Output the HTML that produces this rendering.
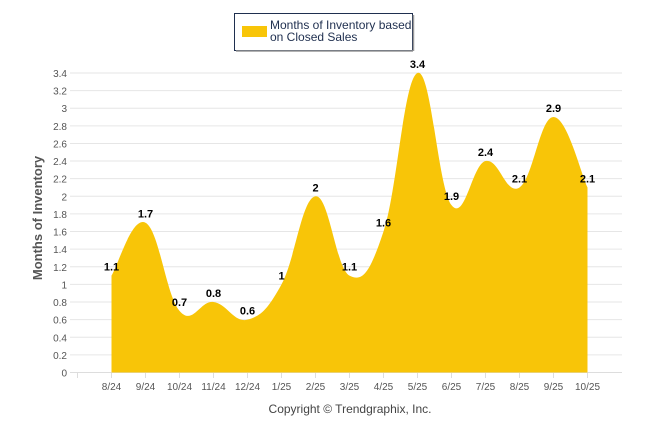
<!DOCTYPE html>
<html><head><meta charset="utf-8"><style>
body{margin:0;background:#fff;font-family:"Liberation Sans",sans-serif}
svg{display:block}
</style></head><body>
<svg width="646" height="434">
<g>
<rect x="234.5" y="13.5" width="178" height="37" fill="#fff" stroke="#1f2f4f" stroke-width="1"/>
<line x1="236" y1="51" x2="413" y2="51" stroke="#999" stroke-width="1.5"/>
<line x1="413.5" y1="15" x2="413.5" y2="51" stroke="#999" stroke-width="1.5"/>
<rect x="242" y="26" width="25" height="11" fill="#f8c508"/>
<text x="270" y="29" font-size="12" fill="#1f2f4f">Months of Inventory based</text>
<text x="270" y="41" font-size="12" fill="#1f2f4f">on Closed Sales</text>
</g>
<g id="grid"></g>
<g id="area"></g>
<g id="labels"></g>
<text transform="translate(42,218) rotate(-90)" text-anchor="middle" font-size="13" font-weight="bold" fill="#555">Months of Inventory</text>
<text x="350" y="413" text-anchor="middle" font-size="12" fill="#444">Copyright © Trendgraphix, Inc.</text>
</svg>
<script>
const categories=["8/24","9/24","10/24","11/24","12/24","1/25","2/25","3/25","4/25","5/25","6/25","7/25","8/25","9/25","10/25"];
const values=[1.1,1.7,0.7,0.8,0.6,1,2,1.1,1.6,3.4,1.9,2.4,2.1,2.9,2.1];
const yTicks=[0,0.2,0.4,0.6,0.8,1,1.2,1.4,1.6,1.8,2,2.2,2.4,2.6,2.8,3,3.2,3.4];
const NS="http://www.w3.org/2000/svg";
const xS=i=>111.5+i*34;
const yS=v=>372.5-v*88.1;
function mk(t,a,p){const e=document.createElementNS(NS,t);for(const k in a)e.setAttribute(k,a[k]);p.appendChild(e);return e;}
const grid=document.getElementById('grid');
yTicks.forEach(t=>{
 const l=mk('line',{x1:70,x2:622,y1:yS(t),y2:yS(t),stroke:'#e6e6e6'},grid);
 
 
 const tx=mk('text',{x:67,y:yS(t)+4,'text-anchor':'end','font-size':10,fill:'#555'},grid);
 tx.textContent=String(t);
 
 
});
mk('line',{x1:70,x2:622,y1:372.5,y2:372.5,stroke:'#ddd'},grid);
mk('line',{x1:77.5,x2:77.5,y1:373,y2:378,stroke:'#ddd'},grid);
categories.forEach((c,i)=>{
 mk('line',{x1:xS(i),x2:xS(i),y1:373,y2:378,stroke:'#ddd'},grid);
 const tx=mk('text',{x:xS(i),y:390,'text-anchor':'middle','font-size':10,fill:'#555'},grid);
 tx.textContent=c;
 
 
});
const pts=values.map((v,i)=>[xS(i),yS(v)]);
let d=`M${pts[0][0]},${yS(0)} L${pts[0][0]},${pts[0][1]}`;
for(let i=0;i<pts.length-1;i++){
 const p0=pts[Math.max(0,i-1)],p1=pts[i],p2=pts[i+1],p3=pts[Math.min(pts.length-1,i+2)];
 const t=0.2;
 const c1=[p1[0]+(p2[0]-p0[0])*t,p1[1]+(p2[1]-p0[1])*t];
 const c2=[p2[0]-(p3[0]-p1[0])*t,p2[1]-(p3[1]-p1[1])*t];
 d+=` C${c1[0]},${c1[1]} ${c2[0]},${c2[1]} ${p2[0]},${p2[1]}`;
}
d+=` L${pts[pts.length-1][0]},${yS(0)} Z`;
const area=mk('path',{d:d,fill:'#f8c508'},document.getElementById('area'));


const lab=document.getElementById('labels');
values.forEach((v,i)=>{
 const tx=mk('text',{x:xS(i),y:yS(v)-5,'text-anchor':'middle','font-size':11,'font-weight':'bold',fill:'#000'},lab);
 tx.textContent=String(v);
 
 
});
</script>
</body></html>
